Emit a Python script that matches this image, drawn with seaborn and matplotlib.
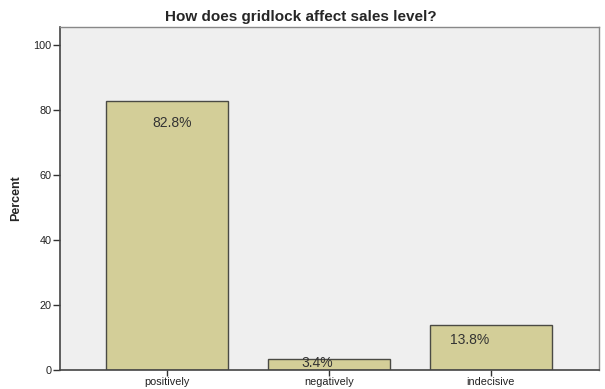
import matplotlib
matplotlib.use('Agg')
import matplotlib.pyplot as plt
import pandas as pd
import seaborn as sns

# Data
categories = ['positively', 'negatively', 'indecisive']
percents = [82.8, 3.4, 13.8]
value_labels = ['82.8%', '3.4%', '13.8%']

# label placement tweaks (SPSS style, not centered)
label_dx = [0.03, -0.07, -0.13]
label_dy = [-7.0, -1.3, -4.6]

df = pd.DataFrame({'answer': categories, 'percent': percents})

sns.set_style('white')
plt.rcParams['font.family'] = ['Liberation Sans', 'DejaVu Sans']

fig = plt.figure(figsize=(6.05, 3.89), dpi=100)
ax = fig.add_axes([0.099, 0.049, 0.891, 0.882])
ax.set_facecolor('#EFEFEF')

sns.barplot(data=df, x='answer', y='percent', color='#D3CE98',
            edgecolor='#4A4A44', linewidth=1.0, width=0.75, saturation=1, ax=ax)

for i, (v, lab) in enumerate(zip(percents, value_labels)):
    ax.text(i + label_dx[i], v + label_dy[i], lab, ha='center', va='center',
            fontsize=10, color='#333333')

ax.set_xlim(-0.66, 2.667)
ax.set_ylim(0, 105.5)
ax.set_yticks([0, 20, 40, 60, 80, 100])
ax.tick_params(axis='y', length=5, width=1, color='#333333', labelsize=7.8,
               labelcolor='#222222', pad=1, left=True)
ax.tick_params(axis='x', length=4, width=1, color='#333333', labelsize=7.8,
               labelcolor='#222222', pad=1, bottom=True)
ax.set_xlabel('')
ax.set_ylabel('Percent', fontsize=9, fontweight='bold', labelpad=8)

for side in ['left', 'bottom']:
    ax.spines[side].set_color('#444444')
    ax.spines[side].set_linewidth(1.2)
for side in ['top', 'right']:
    ax.spines[side].set_color('#888888')
    ax.spines[side].set_linewidth(1.0)

fig.suptitle('How does gridlock affect sales level?', x=0.497, y=0.975,
             fontsize=11, fontweight='bold')

fig.savefig('out.png', dpi=100, facecolor='white')
